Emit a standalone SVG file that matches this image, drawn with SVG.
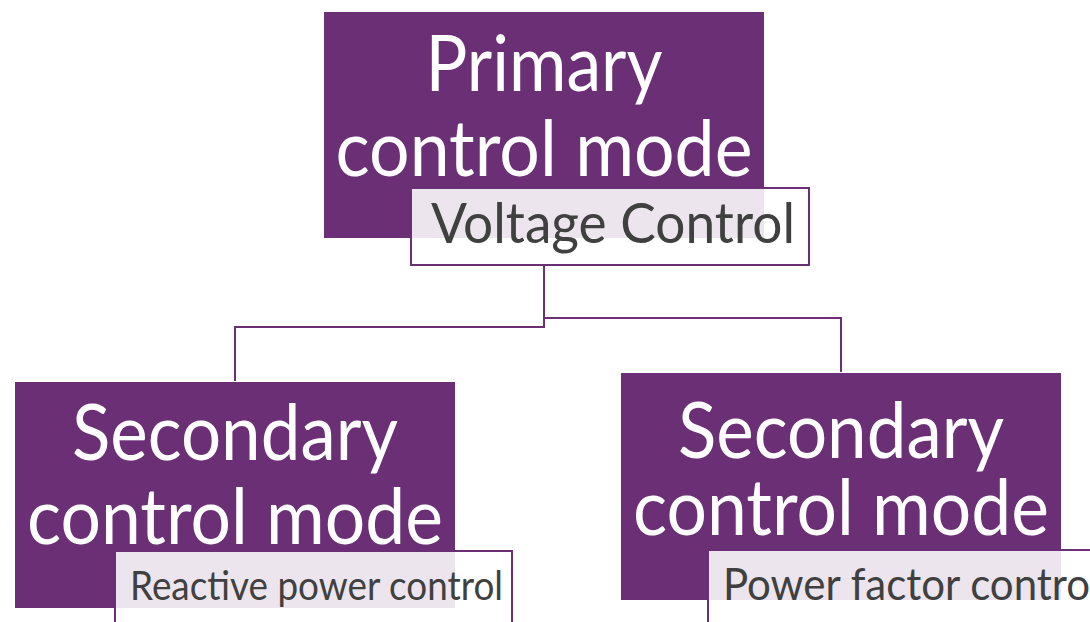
<svg xmlns="http://www.w3.org/2000/svg" width="1090" height="622" viewBox="0 0 1090 622">
<style>
.box{fill:#6B2F76}
.sub{fill:#ffffff;fill-opacity:0.88;stroke:#6B2F76;stroke-width:2}
.title{font-family:Lato,"Liberation Sans",sans-serif;fill:#ffffff;text-anchor:middle}
.lbl{font-family:Lato,"Liberation Sans",sans-serif;fill:#404040}
.conn{fill:none;stroke:#6B2F76;stroke-width:2}
</style>
<rect width="1090" height="622" fill="#ffffff"/>
<g id="connectors">
<path class="conn" d="M544,266 V327 H235 V381"/>
<path class="conn" d="M544,266 V318 H841 V372"/>
</g>
<g id="primary">
<rect class="box" x="324" y="12" width="440" height="226"/>
<text class="title" x="544" y="91" font-size="77" textLength="237" lengthAdjust="spacingAndGlyphs">Primary</text>
<text class="title" x="544" y="176" font-size="77" textLength="417" lengthAdjust="spacingAndGlyphs">control mode</text>
<rect class="sub" x="411" y="188" width="398" height="77"/>
<text class="lbl" x="431" y="243" font-size="57" textLength="364" lengthAdjust="spacingAndGlyphs">Voltage Control</text>
</g>
<g id="secondary-left">
<rect class="box" x="15" y="382" width="440" height="226"/>
<text class="title" x="235" y="460" font-size="77" textLength="326" lengthAdjust="spacingAndGlyphs">Secondary</text>
<text class="title" x="235" y="544" font-size="77" textLength="416" lengthAdjust="spacingAndGlyphs">control mode</text>
<rect class="sub" x="115" y="551" width="397" height="90"/>
<text class="lbl" x="130" y="600" font-size="40" textLength="373" lengthAdjust="spacingAndGlyphs">Reactive power control</text>
</g>
<g id="secondary-right">
<rect class="box" x="621" y="373" width="440" height="227"/>
<text class="title" x="841" y="458" font-size="77" textLength="326" lengthAdjust="spacingAndGlyphs">Secondary</text>
<text class="title" x="841" y="535" font-size="77" textLength="416" lengthAdjust="spacingAndGlyphs">control mode</text>
<rect class="sub" x="708" y="550" width="420" height="90"/>
<text class="lbl" x="723" y="600" font-size="45" textLength="377" lengthAdjust="spacingAndGlyphs">Power factor control</text>
</g>
</svg>
